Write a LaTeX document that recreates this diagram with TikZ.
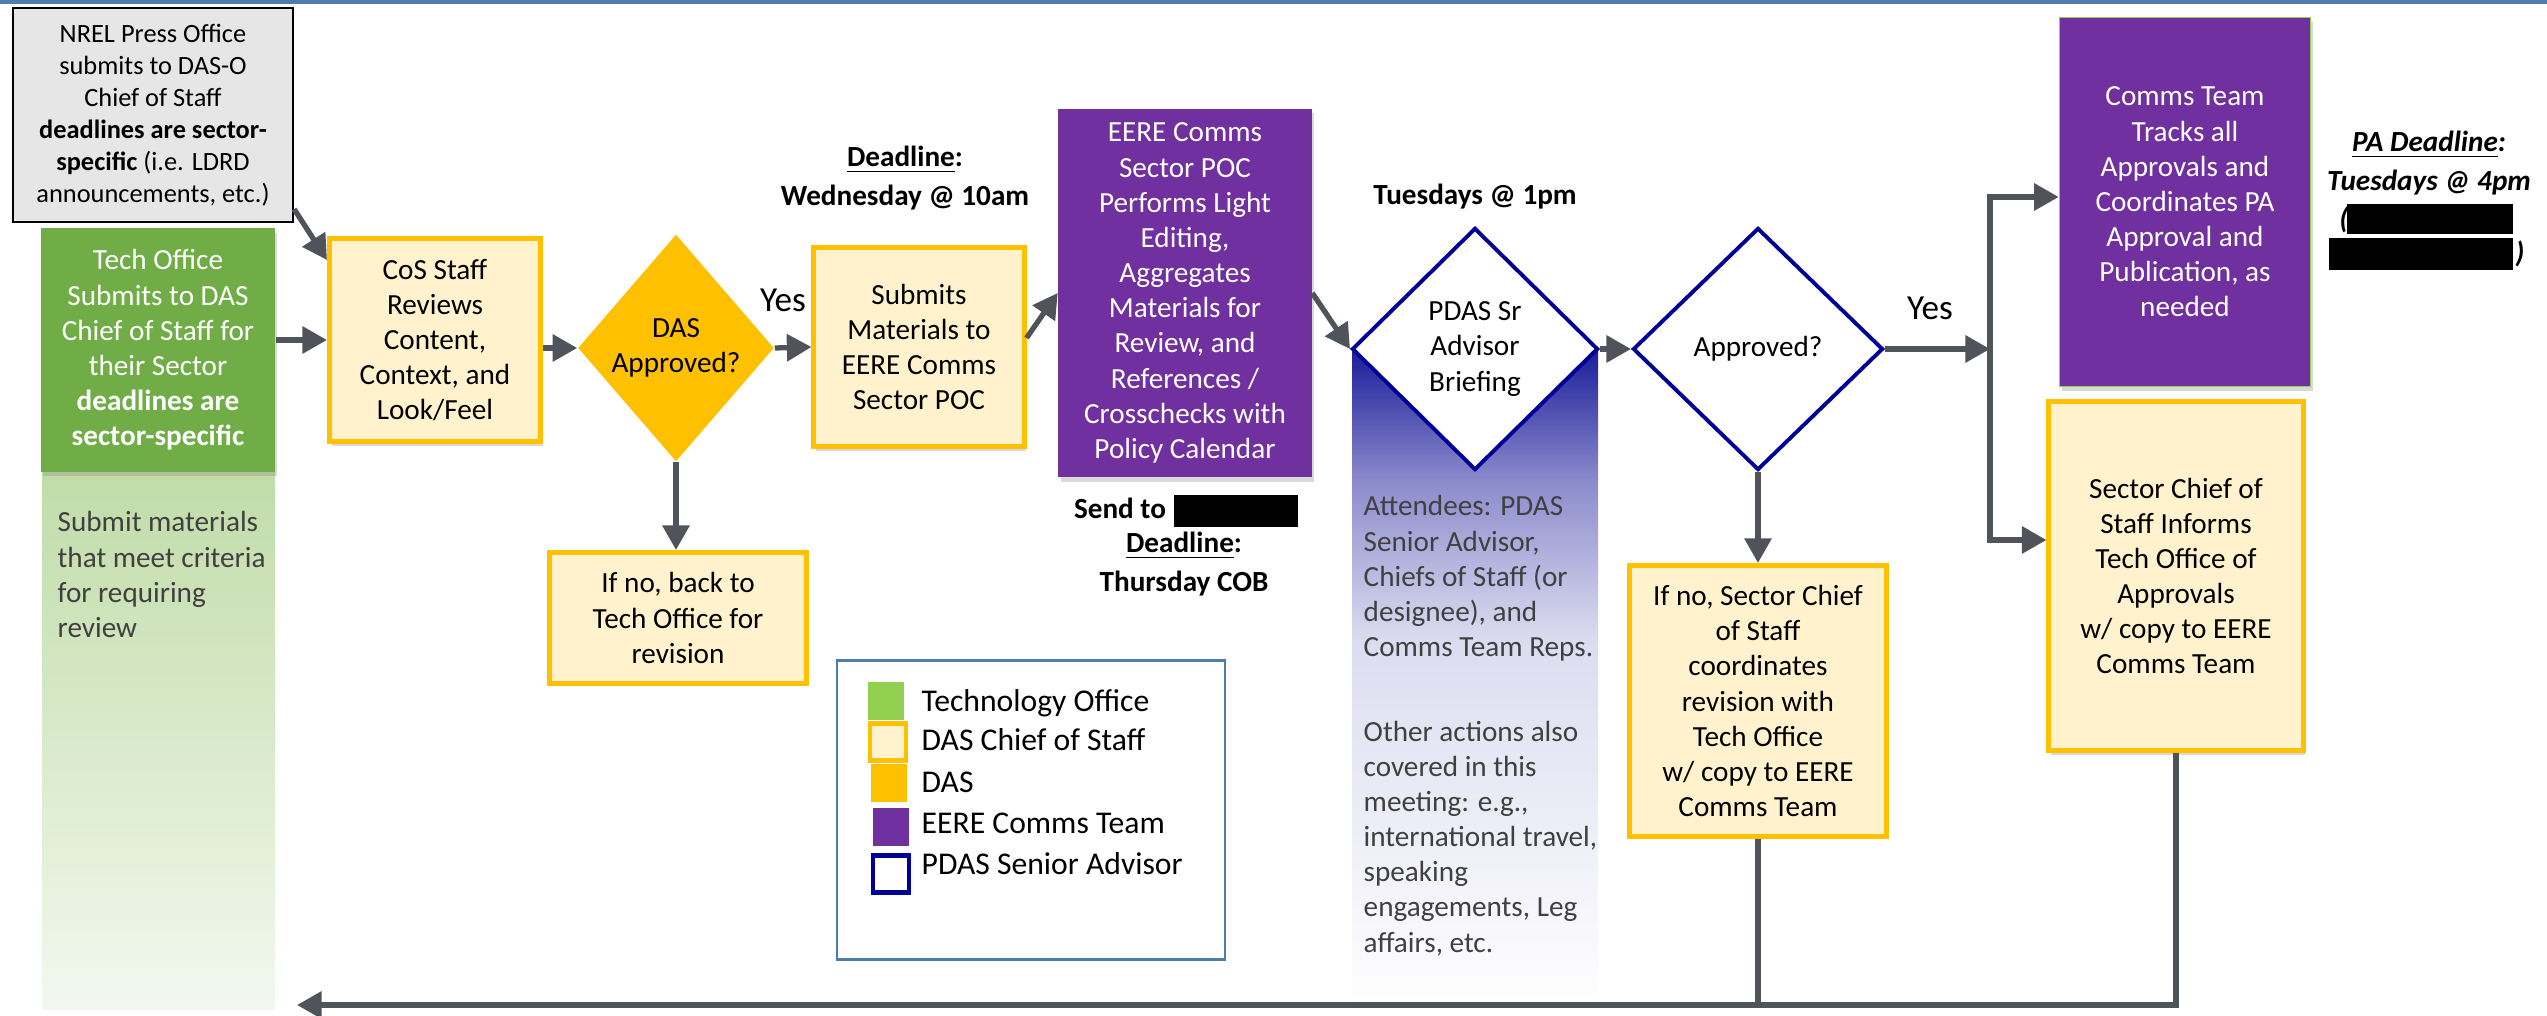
\documentclass[tikz,border=0pt]{standalone}
\usepackage{fontspec}
\setmainfont{Carlito}
\usetikzlibrary{shapes.geometric,arrows.meta,shadows}

\definecolor{techgreen}{HTML}{70AD47}
\definecolor{legendgreen}{HTML}{92D050}
\definecolor{techpale}{HTML}{C0DCA8}
\definecolor{techfaint}{HTML}{F3F8EF}
\definecolor{dasgold}{HTML}{FFC000}
\definecolor{cosfill}{HTML}{FFF2CC}
\definecolor{eerepurple}{HTML}{7030A0}
\definecolor{pdasnavy}{HTML}{000099}
\definecolor{pdasdark}{HTML}{1C1C9A}
\definecolor{pdasmid}{HTML}{8A8ACC}
\definecolor{pdaslight}{HTML}{DCDCF0}
\definecolor{flowgray}{HTML}{50545A}
\definecolor{nrelgray}{HTML}{E7E6E6}
\definecolor{edgeblue}{HTML}{4F7CAE}
\definecolor{notegray}{HTML}{404040}

\newcommand{\bxfont}   {\fontsize{8.3}{10}\selectfont}
\newcommand{\nrfont}   {\fontsize{7.5}{9.1}\selectfont}
\newcommand{\lgdfont}  {\fontsize{9}{11}\selectfont}
\newcommand{\yesfont}  {\fontsize{10}{12}\selectfont}

\tikzset{
  box/.style={rectangle, align=center, inner sep=0pt, font=\bxfont},
  shade box/.style={drop shadow={opacity=0.3, shadow xshift=0.6pt, shadow yshift=-1.3pt}},
  cosbox/.style={box, draw=dasgold, line width=1.4pt, fill=cosfill},
  commsbox/.style={box, fill=eerepurple, text=white},
  decision/.style={diamond, align=center, inner sep=-4pt, font=\bxfont},
  pdasbox/.style={decision, draw=pdasnavy, line width=1.1pt, fill=white},
  note/.style={align=center, inner sep=0pt, font=\bxfont\bfseries},
  swatch/.style={rectangle, minimum width=0.36cm, minimum height=0.37cm, inner sep=0pt},
  legendtext/.style={anchor=base west, inner sep=0pt, font=\lgdfont},
  redact/.style={rectangle, fill=black, inner sep=0pt},
  flow/.style={draw=flowgray, line width=1.5pt, -{Triangle[length=7pt,width=7.5pt]}},
  link/.style={draw=flowgray, line width=1.5pt}
}

\begin{document}
\begin{tikzpicture}[x=0.01cm, y=-0.01cm]
  \useasboundingbox (0,0) rectangle (2547,1016);
  \fill[edgeblue] (0,0) rectangle (2547,4);

  % tech office column
  \shade[top color=techpale, bottom color=techfaint] (42,471) rectangle (275,1010);
  \node[box, draw=black, line width=0.6pt, fill=nrelgray, font=\nrfont,
        minimum width=2.80cm, minimum height=2.14cm] (nrel) at (153,115)
        {NREL Press Office\\submits to DAS-O\\Chief of Staff\\
         \textbf{deadlines are sector-}\\\textbf{specific} (i.e. LDRD\\announcements, etc.)};
  \node[box, shade box, fill=techgreen, text=white,
        minimum width=2.34cm, minimum height=2.43cm] (tech) at (158,350)
        {Tech Office\\Submits to DAS\\Chief of Staff for\\their Sector\\
         \textbf{deadlines are}\\\textbf{sector-specific}};
  \node[anchor=north west, align=left, inner sep=0pt, font=\bxfont, text=notegray] (techtxt) at (57,511)
        {Submit materials\\that meet criteria\\for requiring\\review};

  % DAS chief of staff review
  \node[cosbox, shade box, minimum width=2.11cm, minimum height=2.03cm] (cos) at (435,340)
        {CoS Staff\\Reviews\\Content,\\Context, and\\Look/Feel};
  \node[decision, fill=dasgold, minimum width=1.96cm, minimum height=2.27cm] (das) at (676,348)
        {DAS\\Approved?};
  \node[font=\yesfont, inner sep=0pt] (yes1) at (783,300) {Yes};
  \node[cosbox, minimum width=2.57cm, minimum height=1.31cm] (ifno1) at (678,618)
        {If no, back to\\Tech Office for\\revision};
  \node[cosbox, shade box, minimum width=2.10cm, minimum height=1.99cm] (submit) at (919,347)
        {Submits\\Materials to\\EERE Comms\\Sector POC};
  \node[note] (wed) at (905,178) {\underline{Deadline}:\\[1pt]Wednesday @ 10am};

  % EERE comms
  \node[commsbox, shade box, minimum width=2.53cm, minimum height=3.68cm] (eere) at (1185,293)
        {EERE Comms\\Sector POC\\Performs Light\\Editing,\\Aggregates\\Materials for\\
         Review, and\\References /\\Crosschecks with\\Policy Calendar};
  \node[note] (sendto) at (1120,508) {Send to};
  \node[redact, minimum width=1.24cm, minimum height=0.32cm] (redact1) at (1236,511) {};
  \node[note] (thu) at (1184,564) {\underline{Deadline}:\\[1pt]Thursday COB};

  % PDAS senior advisor briefing
  \shade[top color=pdasdark, bottom color=pdasmid] (1352,349) rectangle (1598,480);
  \shade[top color=pdasmid, bottom color=pdaslight] (1352,479) rectangle (1598,640);
  \shade[top color=pdaslight, bottom color=white] (1352,639) rectangle (1598,1010);
  \node[note] (tue) at (1475,197) {Tuesdays @ 1pm};
  \node[pdasbox, minimum width=2.46cm, minimum height=2.42cm] (pdas) at (1475,349)
        {PDAS Sr\\Advisor\\Briefing};
  \node[anchor=north west, align=left, inner sep=0pt, font=\bxfont, text=notegray] (pdastxt) at (1363,495)
        {Attendees: PDAS\\Senior Advisor,\\Chiefs of Staff (or\\designee), and\\Comms Team Reps.\\[14pt]
         Other actions also\\covered in this\\meeting: e.g.,\\international travel,\\speaking\\
         engagements, Leg\\affairs, etc.};
  \node[pdasbox, minimum width=2.50cm, minimum height=2.42cm] (appr) at (1758,349) {Approved?};
  \node[font=\yesfont, inner sep=0pt] (yes2) at (1930,308) {Yes};
  \node[cosbox, minimum width=2.57cm, minimum height=2.71cm] (ifno2) at (1758,701)
        {If no, Sector Chief\\of Staff\\coordinates\\revision with\\Tech Office\\
         w/ copy to EERE\\Comms Team};

  % approvals and publication
  \node[commsbox, shade box, draw=legendgreen, line width=0.4pt,
        minimum width=2.51cm, minimum height=3.69cm] (comms) at (2185,202)
        {Comms Team\\Tracks all\\Approvals and\\Coordinates PA\\Approval and\\Publication, as\\needed};
  \node[cosbox, shade box, minimum width=2.54cm, minimum height=3.48cm] (inform) at (2176,576)
        {Sector Chief of\\Staff Informs\\Tech Office of\\Approvals\\w/ copy to EERE\\Comms Team};
  \node[note, font=\bxfont\bfseries\itshape] (pa) at (2429,163) {\underline{PA Deadline}:\\[1pt]Tuesdays @ 4pm};
  \node[note, font=\bxfont\bfseries\itshape] (paopen) at (2344,220) {(};
  \node[note, font=\bxfont\bfseries\itshape] (paclose) at (2520,254) {)};
  \node[redact, minimum width=1.65cm, minimum height=0.30cm] (redact2) at (2430,219) {};
  \node[redact, minimum width=1.83cm, minimum height=0.32cm] (redact3) at (2421,254) {};

  % legend
  \node[draw=edgeblue, line width=0.7pt, minimum width=3.88cm, minimum height=2.99cm] (legend) at (1031,810) {};
  \node[swatch, fill=legendgreen] (swtech) at (886,701) {};
  \node[swatch, draw=dasgold, line width=1.2pt, fill=cosfill] (swcos) at (888,742) {};
  \node[swatch, fill=dasgold] (swdas) at (889,783) {};
  \node[swatch, fill=eerepurple] (sweere) at (891,827) {};
  \node[swatch, draw=pdasnavy, line width=1.2pt, fill=white] (swpdas) at (891,874) {};
  \node[legendtext] (lgtech) at (921,712) {Technology Office};
  \node[legendtext] (lgcos) at (921,751) {DAS Chief of Staff};
  \node[legendtext] (lgdas) at (921,793) {DAS};
  \node[legendtext] (lgeere) at (921,834) {EERE Comms Team};
  \node[legendtext] (lgpdas) at (921,875) {PDAS Senior Advisor};

  % connectors
  \coordinate (split) at (1990,349);
  \coordinate (ret) at (297,1005);
  \draw[flow] ([yshift=0.14cm]nrel.south east) -- ([yshift=-0.24cm]cos.north west);
  \draw[flow] (tech.east |- cos.west) -- (cos.west);
  \draw[flow] (cos.east |- das.west) -- (das.west);
  \draw[flow] (das.east) -- (submit.west);
  \draw[flow] (das.south) -- (das.south |- ifno1.north);
  \draw[flow] ([yshift=0.09cm]submit.east) -- (eere.west);
  \draw[flow] (eere.east) -- (pdas.west);
  \draw[flow] (pdas.east) -- (appr.west);
  \draw[flow] (appr.east) -- (split);
  \draw[flow] (appr.south) -- (ifno2.north);
  \draw[flow] (split) |- ([yshift=0.05cm]comms.west);
  \draw[flow] (split) |- ([yshift=0.36cm]inform.west);
  \draw[flow] (inform.south) |- (ret);
  \draw[link] (ifno2.south) -- (ifno2.south |- ret);
\end{tikzpicture}
\end{document}
